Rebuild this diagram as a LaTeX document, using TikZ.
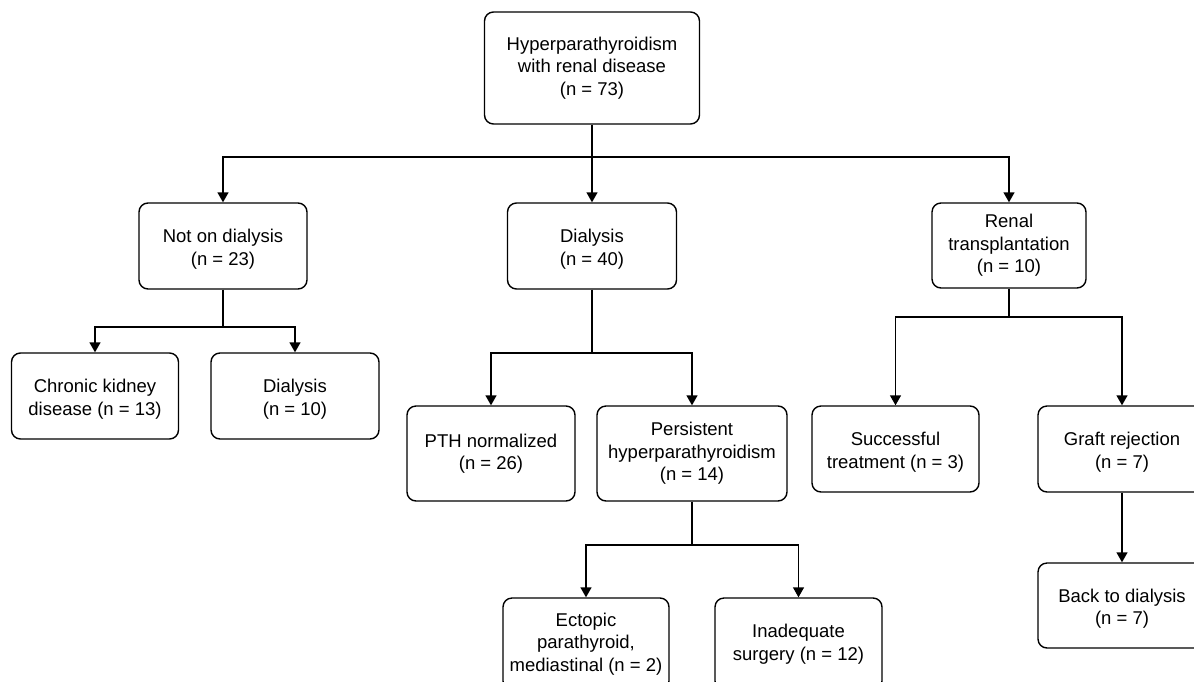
\documentclass[tikz,border=0pt]{standalone}
\usepackage{fontspec}
\setmainfont{Liberation Sans}
\usetikzlibrary{arrows.meta}
\newcommand{\lowstrut}{\rule{0pt}{19.5pt}}
\begin{document}
\begin{tikzpicture}[x=1pt,y=-1pt,
  box/.style={draw, line width=1.4pt, rounded corners=9pt, align=center, inner sep=0pt,
    font=\fontsize{18.5}{22.5}\selectfont},
  arr/.style={line width=1.4pt, -{Triangle[width=11pt,length=10pt]}},
  ln/.style={line width=1.4pt}]
\useasboundingbox (0,0) rectangle (1194,681);
\clip (0,0) rectangle (1194,681);
\node[box, minimum width=215pt, minimum height=112pt] (top) at (592,68) {Hyperparathyroidism\\with renal disease\\(n = 73)};
\node[box, minimum width=168pt, minimum height=86pt] (nod) at (223,246) {\lowstrut Not on dialysis\\(n = 23)};
\node[box, minimum width=169pt, minimum height=86pt] (dia) at (592,246) {\lowstrut Dialysis\\(n = 40)};
\node[box, minimum width=154pt, minimum height=85pt] (ren) at (1009,245.5) {Renal\\transplantation\\(n = 10)};
\node[box, minimum width=167pt, minimum height=86pt] (ckd) at (95,396) {\lowstrut Chronic kidney\\disease (n = 13)};
\node[box, minimum width=168pt, minimum height=86pt] (dten) at (295,396) {\lowstrut Dialysis\\(n = 10)};
\node[box, minimum width=168pt, minimum height=95pt] (pth) at (491,453.5) {PTH normalized\\(n = 26)};
\node[box, minimum width=190pt, minimum height=95pt] (per) at (692,453.5) {Persistent\\hyperparathyroidism\\(n = 14)};
\node[box, minimum width=167pt, minimum height=86pt] (suc) at (895.5,449) {\lowstrut Successful\\treatment (n = 3)};
\node[box, minimum width=168pt, minimum height=86pt] (gra) at (1122,449) {\lowstrut Graft rejection\\(n = 7)};
\node[box, minimum width=168pt, minimum height=85pt] (bac) at (1122,605.5) {\lowstrut Back to dialysis\\(n = 7)};
\node[box, minimum width=166pt, minimum height=92pt] (ect) at (586,644) {Ectopic\\parathyroid,\\mediastinal (n = 2)};
\node[box, minimum width=167pt, minimum height=92pt] (ina) at (798.5,644) {Inadequate\\surgery (n = 12)};
% junction points
\coordinate (jtop) at (top.south |- 0,157);
\coordinate (jnod) at (nod.south |- 0,327);
\coordinate (jdia) at (dia.south |- 0,353);
\coordinate (jren) at (ren.south |- 0,317);
\coordinate (jper) at (per.south |- 0,545);
% top level
\draw[ln] (top.south) -- (jtop);
\draw[arr] (jtop) -| (nod.north);
\draw[arr] (jtop) -- (dia.north);
\draw[arr] (jtop) -| (ren.north);
% not on dialysis
\draw[ln] (nod.south) -- (jnod);
\draw[arr] (jnod) -| (ckd.north);
\draw[arr] (jnod) -| (dten.north);
% dialysis
\draw[ln] (dia.south) -- (jdia);
\draw[arr] (jdia) -| (pth.north);
\draw[arr] (jdia) -| (per.north);
% renal
\draw[ln] (ren.south) -- (jren);
\draw[arr] (jren) -| (suc.north);
\draw[arr] (jren) -| (gra.north);
% persistent
\draw[ln] (per.south) -- (jper);
\draw[arr] (jper) -| (ect.north);
\draw[arr] (jper) -| (ina.north);
% graft
\draw[arr] (gra.south) -- (bac.north);
\end{tikzpicture}
\end{document}
